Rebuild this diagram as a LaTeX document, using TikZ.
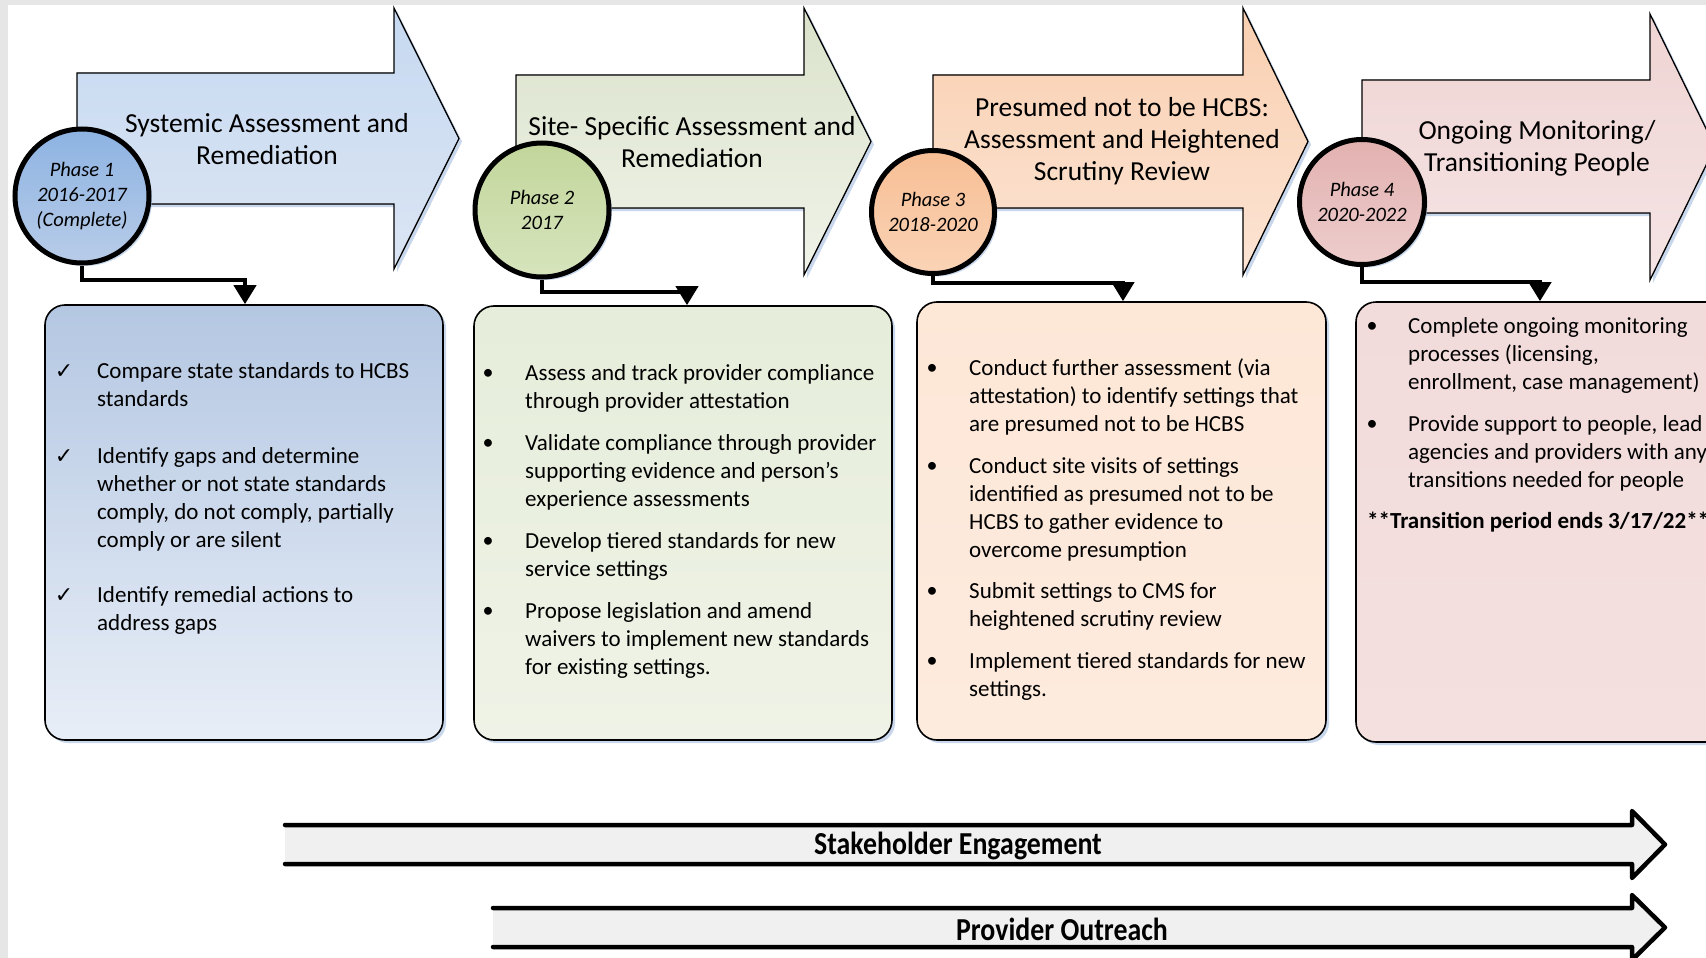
\documentclass[tikz,border=0pt]{standalone}
\usepackage{fontspec}
\setmainfont{Carlito}
\newfontfamily\djv{DejaVu Sans}
\usetikzlibrary{arrows.meta,shadows,calc}

\definecolor{pagegray}{HTML}{E6E6E6}
\definecolor{shadowblue}{HTML}{9BB7DD}
\definecolor{aAtop}{HTML}{C6D9F1}\definecolor{aAbot}{HTML}{DBE5F3}
\definecolor{aBtop}{HTML}{DAE2CB}\definecolor{aBbot}{HTML}{F0F3E9}
\definecolor{aCtop}{HTML}{F9CFB0}\definecolor{aCbot}{HTML}{FCE4D4}
\definecolor{aDtop}{HTML}{EFD4D3}\definecolor{aDbot}{HTML}{F5E4E4}
\definecolor{cAtop}{HTML}{8DB3E2}\definecolor{cAbot}{HTML}{B8CCE8}
\definecolor{cBtop}{HTML}{C2D69B}\definecolor{cBbot}{HTML}{D7E4BD}
\definecolor{cCtop}{HTML}{F7BE94}\definecolor{cCbot}{HTML}{FAD3B6}
\definecolor{cDtop}{HTML}{E2B1B0}\definecolor{cDbot}{HTML}{EDCDCC}
\definecolor{bAtop}{HTML}{B4C7E2}\definecolor{bAbot}{HTML}{E8EEF7}
\definecolor{bBtop}{HTML}{E6EDDA}\definecolor{bBbot}{HTML}{EFF3E7}
\definecolor{bCtop}{HTML}{FDE7D7}\definecolor{bCbot}{HTML}{FDEBDE}
\definecolor{bDtop}{HTML}{F2DCDB}\definecolor{bDbot}{HTML}{F3E0DF}
\definecolor{bargray}{HTML}{F0F0F0}

\newcommand\tstrut{\rule{0pt}{17pt}}

% big chevron arrow: #1 left x, #2 body top, #3 body bottom, #4 head base x, #5 head top, #6 head bottom, #7 tip x, #8 colour prefix
\newcommand\bigarrow[8]{%
  \fill[shadowc, shift={(3,3)}] (#1,#2) -- (#4,#2) -- (#4,#5) -- (#7,{(#5+#6)/2}) -- (#4,#6) -- (#4,#3) -- (#1,#3) -- cycle;
  \filldraw[bigarr, top color=#8top, bottom color=#8bot] (#1,#2) -- (#4,#2) -- (#4,#5) -- (#7,{(#5+#6)/2}) -- (#4,#6) -- (#4,#3) -- (#1,#3) -- cycle;
}
% list item: #1 name, #2 symbol, #3 symbol x, #4 text x, #5 y centre of first line, #6 text
\newcommand\listitem[6]{%
  \node[symb] (#1s) at (#3,#5+2) {#2};
  \node[itemtxt] (#1) at (#4,#5-9) {\tstrut #6};
}

\begin{document}
\begin{tikzpicture}[x=1pt,y=-1pt,
  shadowc/.style={fill=shadowblue, opacity=0.55},
  bigarr/.style={draw=black, line width=1.3pt, line join=miter},
  title/.style={align=center, inner sep=0pt, font=\fontsize{27.5}{32}\selectfont},
  phase/.style={circle, draw=black, line width=5pt, inner sep=0pt, align=center,
    font=\fontsize{20.5}{25}\selectfont\itshape,
    drop shadow={shadow xshift=3pt, shadow yshift=-3pt, fill=shadowblue, opacity=.55}},
  listbox/.style={draw=black, line width=1.6pt, rounded corners=20pt, inner sep=0pt,
    drop shadow={shadow xshift=3pt, shadow yshift=-3pt, fill=shadowblue, opacity=.55}},
  conn/.style={line width=4pt, -{Triangle[width=22pt,length=19pt]}},
  symb/.style={inner sep=0pt, font=\fontsize{22}{28}\selectfont},
  itemtxt/.style={anchor=north west, inner sep=0pt, align=left, font=\fontsize{23}{28}\selectfont},
  barline/.style={line width=4.5pt, line cap=round, line join=round},
  barlabel/.style={inner sep=0pt, font=\fontsize{32}{36}\selectfont\bfseries}
]
\useasboundingbox (0,0) rectangle (1706,958);
\fill[pagegray] (0,0) rectangle (1706,958);
\fill[white] (8,5) rectangle (1706,958);

% ---- big phase arrows
\bigarrow{77}{73}{204}{394}{8}{269}{459}{aA}
\bigarrow{516}{75}{208}{804}{8}{275}{871}{aB}
\bigarrow{933}{75}{208}{1243}{8}{275}{1308}{aC}
\bigarrow{1362}{80}{213}{1650}{14}{280}{1715}{aD}

\node[title] (t1) at (267,139) {Systemic Assessment and\\Remediation};
\node[title] (t2) at (692,142) {Site- Specific Assessment and\\Remediation};
\node[title] (t3) at (1122,141) {Presumed not to be HCBS:\\Assessment and Heightened\\Scrutiny Review};
\node[title] (t4) at (1537,148) {Ongoing Monitoring/\\Transitioning People};

% ---- boxes
\node[listbox, top color=bAtop, bottom color=bAbot, minimum width=398pt, minimum height=435pt] (b1) at (244,522.5) {};
\node[listbox, top color=bBtop, bottom color=bBbot, minimum width=418pt, minimum height=434pt] (b2) at (683,523) {};
\node[listbox, top color=bCtop, bottom color=bCbot, minimum width=409pt, minimum height=438pt] (b3) at (1121.5,521) {};
\node[listbox, top color=bDtop, bottom color=bDbot, minimum width=414pt, minimum height=440pt] (b4) at (1563,522) {};

% ---- phase circles
\node[phase, top color=cAtop, bottom color=cAbot, minimum size=134pt] (c1) at (82,196) {Phase 1\\2016-2017\\(Complete)};
\node[phase, top color=cBtop, bottom color=cBbot, minimum size=134pt] (c2) at (542,210) {Phase 2\\2017};
\node[phase, top color=cCtop, bottom color=cCbot, minimum size=123pt] (c3) at (933,212) {Phase 3\\2018-2020};
\node[phase, top color=cDtop, bottom color=cDbot, minimum size=125pt] (c4) at (1362,202) {Phase 4\\2020-2022};

% ---- connectors
\coordinate (k1) at (245,280);
\coordinate (k2) at (687,292);
\coordinate (k3) at (1123,283);
\coordinate (k4) at (1540,282);
\draw[conn] (c1.south) |- (k1) -- (k1 |- b1.north);
\draw[conn] (c2.south) |- (k2) -- (k2 |- b2.north);
\draw[conn] (c3.south) |- (k3) -- (k3 |- b3.north);
\draw[conn] (c4.south) |- (k4) -- (k4 |- b4.north);

% ---- box 1 items
\listitem{p1a}{\djv\fontsize{22}{26}\selectfont ✓}{64}{97}{370}{Compare state standards to HCBS\\standards}
\listitem{p1b}{\djv\fontsize{22}{26}\selectfont ✓}{64}{97}{455}{Identify gaps and determine\\whether or not state standards\\comply, do not comply, partially\\comply or are silent}
\listitem{p1c}{\djv\fontsize{22}{26}\selectfont ✓}{64}{97}{594}{Identify remedial actions to\\address gaps}

% ---- box 2 items
\listitem{p2a}{•}{488}{525}{372}{Assess and track provider compliance\\through provider attestation}
\listitem{p2b}{•}{488}{525}{442}{Validate compliance through provider\\supporting evidence and person’s\\experience assessments}
\listitem{p2c}{•}{488}{525}{540}{Develop tiered standards for new\\service settings}
\listitem{p2d}{•}{488}{525}{610}{Propose legislation and amend\\waivers to implement new standards\\for existing settings.}

% ---- box 3 items
\listitem{p3a}{•}{932}{969}{367}{Conduct further assessment (via\\attestation) to identify settings that\\are presumed not to be HCBS}
\listitem{p3b}{•}{932}{969}{465}{Conduct site visits of settings\\identified as presumed not to be\\HCBS to gather evidence to\\overcome presumption}
\listitem{p3c}{•}{932}{969}{590}{Submit settings to CMS for\\heightened scrutiny review}
\listitem{p3d}{•}{932}{969}{660}{Implement tiered standards for new\\settings.}

% ---- box 4 items
\listitem{p4a}{•}{1372}{1408}{325}{Complete ongoing monitoring\\processes (licensing,\\enrollment, case management)}
\listitem{p4b}{•}{1372}{1408}{423}{Provide support to people, lead\\agencies and providers with any\\transitions needed for people}
\node[itemtxt, font=\fontsize{23}{28}\selectfont\bfseries] (p4c) at (1367,520-9) {\tstrut **Transition period ends 3/17/22**};

% ---- bottom bars
\fill[bargray] (285,825) -- (1632,825) -- (1632,811) -- (1665,844.5) -- (1632,878) -- (1632,864) -- (285,864) -- cycle;
\draw[barline] (285,825) -- (1632,825) -- (1632,811) -- (1665,844.5) -- (1632,878) -- (1632,864) -- (285,864);
\node[barlabel] (se) at (958,846) {\scalebox{0.87}[1]{Stakeholder Engagement}};

\fill[bargray] (493,908) -- (1632,908) -- (1632,895) -- (1665,927.5) -- (1632,960) -- (1632,947) -- (493,947) -- cycle;
\draw[barline] (493,908) -- (1632,908) -- (1632,895) -- (1665,927.5) -- (1632,960) -- (1632,947) -- (493,947);
\node[barlabel] (po) at (1062,929) {\scalebox{0.87}[1]{Provider Outreach}};
\end{tikzpicture}
\end{document}
